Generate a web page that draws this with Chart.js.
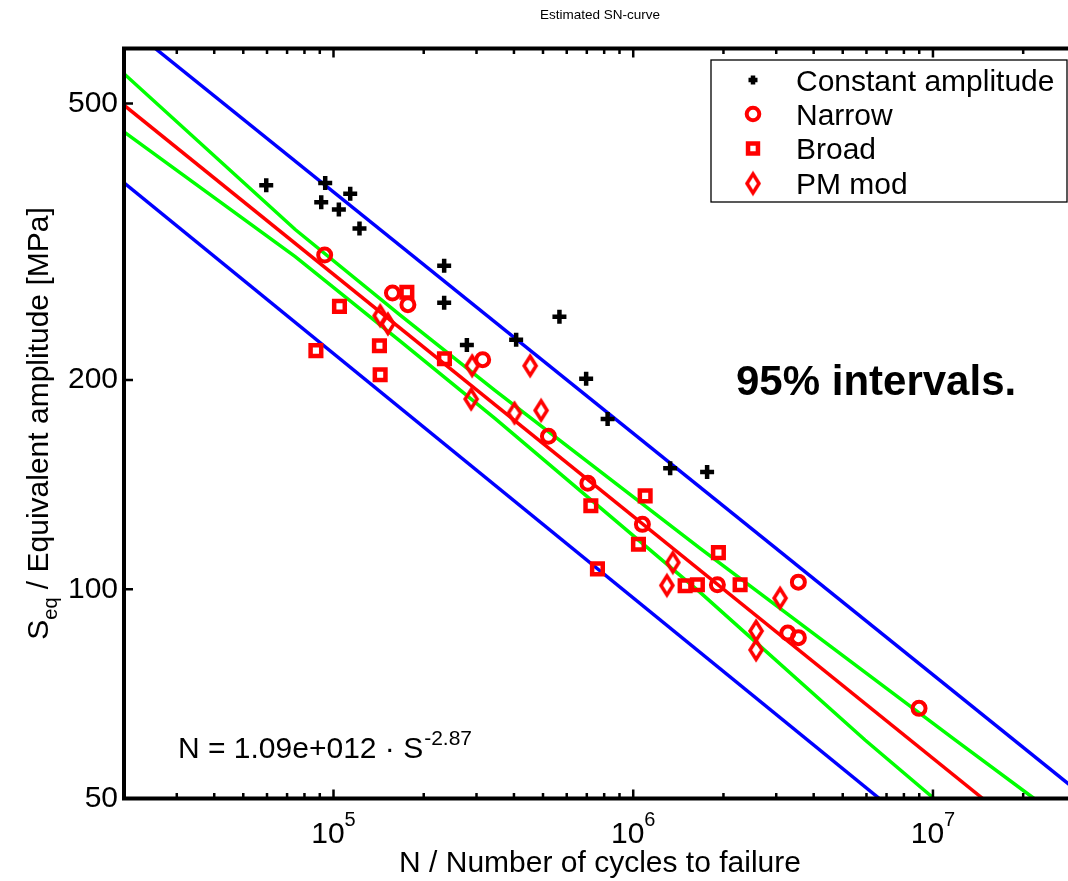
<!DOCTYPE html>
<html>
<head>
<meta charset="utf-8">
<title>Estimated SN-curve</title>
<script src="https://cdn.jsdelivr.net/npm/chart.js@4.4.1/dist/chart.umd.min.js"></script>
<style>
  html, body { margin: 0; padding: 0; background: #fff; overflow: hidden; }
  #sn { position: absolute; left: 0; top: 0; width: 1068px; height: 881px; }
</style>
</head>
<body>
<canvas id="sn" width="1068" height="881"></canvas>
<script>
// constant amplitude tests (cycles, MPa)
const caN = [59650, 93830, 113700, 91000, 104200, 122100, 234000, 234000, 278600, 406800, 567300, 696500, 821400, 1328000, 1764000];
const caS = [381.4, 384.4, 370.7, 360.5, 351.9, 330.4, 292.0, 258.5, 224.7, 228.6, 246.6, 200.9, 175.8, 149.3, 147.5];

// narrow band spectrum
const narrowN = [93450, 157300, 177100, 314600, 521300, 705700, 1073000, 1909000, 3556000, 3279000, 3556000, 8987000];
const narrowS = [302.6, 266.9, 256.8, 214.0, 166.0, 142.1, 124.0, 101.5, 102.4, 86.5, 85.2, 67.4];

// broad band spectrum
const broadN = [87360, 104700, 142300, 143100, 175700, 234500, 722100, 1096000, 1041000, 1924000, 759600, 1490000, 1637000, 2273000];
const broadS = [220.5, 255.3, 224.1, 203.6, 267.5, 214.7, 131.9, 136.3, 116.1, 112.9, 107.0, 101.2, 101.5, 101.5];

// PM mod spectrum
const pmN = [143100, 151900, 290100, 453000, 287900, 401600, 492800, 1356000, 1295000, 3090000, 2570000, 2570000];
const pmS = [247.6, 240.9, 209.7, 209.7, 187.8, 179.3, 180.9, 109.3, 101.3, 97.1, 87.1, 81.8];

// fitted curve and 95% bands
const fitN = [2e4, 1.466e7];
const fitS = [497.3, 50];
const ciUpperN = [2e4, 74520, 166900, 346300, 1672000, 1.185e7, 2.174e7];
const ciUpperS = [551.9, 329.4, 248.0, 193.1, 114.5, 60.7, 50];
const ciLowerN = [2e4, 74520, 166900, 346300, 1672000, 5.935e6, 1.008e7];
const ciLowerS = [455.1, 301.1, 227.5, 176.0, 99.0, 60.7, 50];
const piUpperN = [25430, 3.26e7];
const piUpperS = [600, 50];
const piLowerN = [2e4, 6.625e6];
const piLowerS = [384.5, 50];

const xTicks = [1e5, 1e6, 1e7];
const yTicks = [50, 100, 200, 500];
const legendLabels = ['Constant amplitude', 'Narrow', 'Broad', 'PM mod'];

const FONT = '"Liberation Sans", Arial, Helvetica, sans-serif';
const pts = (xs, ys) => xs.map((v, i) => ({ x: v, y: ys[i] }));

function diamond() {
  const c = document.createElement('canvas');
  c.width = 22; c.height = 28;
  const g = c.getContext('2d');
  g.strokeStyle = '#ff0000';
  g.lineWidth = 3.5;
  g.beginPath();
  g.moveTo(11, 4.5); g.lineTo(17, 14); g.lineTo(11, 23.5); g.lineTo(5, 14);
  g.closePath();
  g.stroke();
  return c;
}
const diamondImg = diamond();

function line(label, xs, ys, color) {
  return { label, data: pts(xs, ys), showLine: true, borderColor: color, borderWidth: 3.5, pointRadius: 0, tension: 0 };
}

const decor = {
  id: 'decor',
  afterDraw(chart) {
    const { ctx, chartArea: a, scales: { x, y } } = chart;
    const W = chart.width;
    const big = '30px ' + FONT, small = '20px ' + FONT;
    ctx.save();
    ctx.fillStyle = '#000';
    ctx.strokeStyle = '#000';

    // frame (right side lies just off the picture)
    ctx.lineWidth = 4;
    ctx.beginPath();
    ctx.moveTo(W, a.top); ctx.lineTo(a.left, a.top); ctx.lineTo(a.left, a.bottom); ctx.lineTo(W, a.bottom);
    ctx.stroke();

    // inward ticks
    ctx.lineWidth = 2.5;
    ctx.beginPath();
    for (let e = 4; e <= 7; e++) {
      for (let k = 1; k <= 9; k++) {
        const v = k * Math.pow(10, e);
        if (v < x.min || v > x.max) continue;
        const px = x.getPixelForValue(v);
        const len = k === 1 ? 9 : 5.5;
        ctx.moveTo(px, a.bottom); ctx.lineTo(px, a.bottom - len);
        ctx.moveTo(px, a.top); ctx.lineTo(px, a.top + len);
      }
    }
    yTicks.forEach(v => {
      const py = y.getPixelForValue(v);
      ctx.moveTo(a.left, py); ctx.lineTo(a.left + 9, py);
    });
    ctx.stroke();

    // x tick labels 10^n
    ctx.textBaseline = 'alphabetic';
    ctx.textAlign = 'left';
    xTicks.forEach(v => {
      const px = x.getPixelForValue(v);
      const exp = String(Math.round(Math.log10(v)));
      ctx.font = big; const w1 = ctx.measureText('10').width;
      ctx.font = small; const w2 = ctx.measureText(exp).width;
      const sx = px - (w1 + w2) / 2;
      ctx.font = big; ctx.fillText('10', sx, 843);
      ctx.font = small; ctx.fillText(exp, sx + w1, 826);
    });

    // axis titles
    ctx.font = big;
    ctx.textAlign = 'center';
    ctx.fillText('N / Number of cycles to failure', 600, 872);

    ctx.save();
    ctx.translate(48, (a.top + a.bottom) / 2);
    ctx.rotate(-Math.PI / 2);
    ctx.textAlign = 'left';
    const p1 = 'S', p2 = 'eq', p3 = ' / Equivalent amplitude [MPa]';
    ctx.font = big; const w1 = ctx.measureText(p1).width, w3 = ctx.measureText(p3).width;
    ctx.font = small; const w2 = ctx.measureText(p2).width;
    let sx = -(w1 + w2 + w3) / 2;
    ctx.font = big; ctx.fillText(p1, sx, 0); sx += w1;
    ctx.font = small; ctx.fillText(p2, sx, 9); sx += w2;
    ctx.font = big; ctx.fillText(p3, sx, 0);
    ctx.restore();

    // title
    ctx.font = '13.5px ' + FONT;
    ctx.textAlign = 'center';
    ctx.fillText('Estimated SN-curve', 600, 19);

    // annotations
    ctx.textAlign = 'left';
    ctx.font = 'bold 42px ' + FONT;
    ctx.fillText('95% intervals.', 736, 395);
    ctx.font = big;
    const f1 = 'N = 1.09e+012 \u00b7 S';
    ctx.fillText(f1, 178, 758);
    const fw = ctx.measureText(f1).width;
    ctx.font = '21px ' + FONT;
    ctx.fillText('-2.87', 178 + fw + 1, 745);

    // legend
    ctx.fillStyle = '#fff';
    ctx.fillRect(711, 60, 356, 142);
    ctx.lineWidth = 1.3;
    ctx.strokeRect(711, 60, 356, 142);
    const rows = [80, 114, 148.5, 183.5];
    const legR = [4.5, 6.3, 7, 0];
    legendLabels.forEach((lab, i) => {
      const ds = chart.data.datasets[i];
      ctx.save();
      ctx.strokeStyle = ds.pointBorderColor;
      ctx.fillStyle = 'rgba(0,0,0,0)';
      ctx.lineWidth = ds.pointBorderWidth;
      Chart.helpers.drawPoint(ctx, {
        pointStyle: ds.pointStyle, rotation: 0,
        radius: legR[i] || ds.pointRadius, borderWidth: ds.pointBorderWidth
      }, 753, rows[i]);
      ctx.restore();
      ctx.fillStyle = '#000';
      ctx.font = big;
      ctx.fillText(lab, 796, rows[i] + 10.5);
    });
    ctx.restore();
  }
};

new Chart(document.getElementById('sn'), {
  type: 'scatter',
  data: {
    datasets: [
      { label: legendLabels[0], data: pts(caN, caS), pointStyle: 'cross', pointRadius: 7, pointBorderWidth: 4.5, pointBorderColor: '#000000', pointBackgroundColor: 'rgba(0,0,0,0)' },
      { label: legendLabels[1], data: pts(narrowN, narrowS), pointStyle: 'circle', pointRadius: 6.5, pointBorderWidth: 4, pointBorderColor: '#ff0000', pointBackgroundColor: 'rgba(0,0,0,0)' },
      { label: legendLabels[2], data: pts(broadN, broadS), pointStyle: 'rect', pointRadius: 7.5, pointBorderWidth: 4.5, pointBorderColor: '#ff0000', pointBackgroundColor: 'rgba(0,0,0,0)' },
      { label: legendLabels[3], data: pts(pmN, pmS), pointStyle: diamondImg, pointRadius: 10, pointBorderWidth: 3.5, pointBorderColor: '#ff0000', pointBackgroundColor: 'rgba(0,0,0,0)' },
      line('fit', fitN, fitS, '#ff0000'),
      line('ci upper', ciUpperN, ciUpperS, '#00ff00'),
      line('ci lower', ciLowerN, ciLowerS, '#00ff00'),
      line('pi upper', piUpperN, piUpperS, '#0000ff'),
      line('pi lower', piLowerN, piLowerS, '#0000ff')
    ]
  },
  options: {
    responsive: false,
    animation: false,
    devicePixelRatio: 1,
    events: [],
    layout: { autoPadding: false, padding: { top: 48.5, right: 0, bottom: 0, left: 0 } },
    plugins: { legend: { display: false }, tooltip: { enabled: false }, title: { display: false } },
    scales: {
      x: {
        type: 'logarithmic', min: 2e4, max: 2.822e7,
        grid: { display: false, drawTicks: false }, border: { display: false },
        ticks: { display: false },
        afterFit: s => { s.height = 82.5; }
      },
      y: {
        type: 'logarithmic', min: 50, max: 600,
        grid: { display: false, drawTicks: false }, border: { display: false },
        afterBuildTicks: s => { s.ticks = yTicks.map(v => ({ value: v })); },
        ticks: { color: '#000', padding: 6, font: { family: FONT, size: 30 }, callback: v => String(v) },
        afterFit: s => { s.width = 124; }
      }
    }
  },
  plugins: [decor]
});
</script>
</body>
</html>
